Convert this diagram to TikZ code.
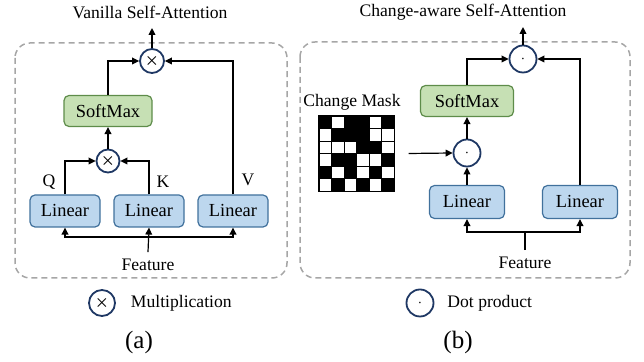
\documentclass[tikz,border=0pt]{standalone}
\usepackage{amsmath}
\usepackage{fontspec}
\setmainfont{Liberation Serif}
\usetikzlibrary{arrows.meta}
\definecolor{smfill}{HTML}{C6E0B4}
\definecolor{smline}{HTML}{5E8C4A}
\definecolor{lnfill}{HTML}{BDD7EE}
\definecolor{lnline}{HTML}{41719C}
\definecolor{opline}{HTML}{1F3864}
\begin{document}
\begin{tikzpicture}[x=0.5pt,y=-0.5pt]
	\tikzset{lin/.style={draw=lnline,fill=lnfill,rounded corners=2.5pt,line width=0.6pt,
	                     minimum width=35pt,minimum height=16pt,font=\fontsize{9.2}{10}\selectfont},
	         soft/.style={draw=smline,fill=smfill,rounded corners=2.5pt,line width=0.6pt,
	                      minimum height=15.5pt,font=\fontsize{9.2}{10}\selectfont},
	         opc/.style={circle,draw=opline,line width=0.9pt,minimum size=12pt,inner sep=0pt,
	                     font=\scriptsize},
	         lbl/.style={font=\fontsize{8.8}{10}\selectfont},
	         arr/.style={-{Triangle[length=3.5pt,width=3.4pt]},line width=0.6pt},
	         frame/.style={draw=gray!70,dashed,dash pattern=on 3pt off 2pt,line width=0.75pt,rounded corners=7.5pt}}
	\useasboundingbox (0,0) rectangle (644,362);
	% (a) vanilla
	\draw[frame] (15,43) rectangle (287,278);
	\node[lbl] (title1) at (150,12) {Vanilla Self-Attention};
	\node[opc] (mul2) at (152,61) {$\boldsymbol{\times}$};
	\node[soft,minimum width=44pt] (sm1) at (108,111) {SoftMax};
	\node[opc,minimum size=11.5pt] (mul1) at (108,161) {$\boldsymbol{\times}$};
	\node[lin] (lq) at (65,211) {Linear};
	\node[lin] (lk) at (149,211) {Linear};
	\node[lin] (lv) at (233,211) {Linear};
	\node[lbl] (q) at (49,182) {Q};
	\node[lbl] (k) at (163,182) {K};
	\node[lbl] (v) at (248,180) {V};
	\node[lbl] (feat1) at (148,265) {Feature};
	\coordinate (bus1) at (149,237);
	\coordinate (out1) at (152,28);
	\draw[arr] (lq.north) |- (mul1.west);
	\draw[arr] (lk.north) |- (mul1.east);
	\draw[arr] (mul1) -- (sm1);
	\draw[arr] (sm1.north) |- (mul2.west);
	\draw[arr] (lv.north) |- (mul2.east);
	\draw[arr] (mul2) -- (out1);
	\draw[arr] (feat1.north) -- (lk.south);
	\draw[arr] (bus1) -| (lq.south);
	\draw[arr] (bus1) -| (lv.south);
	\node[opc,minimum size=13pt] (leg1) at (102,303) {$\boldsymbol{\times}$};
	\node[lbl,right=4pt] (legt1) at (leg1.east) {Multiplication};
	\node[font=\fontsize{12.5}{14}\selectfont] (capa) at (139,342) {(a)};
	% (b) change-aware
	\draw[frame] (300,42) rectangle (630,278);
	\node[lbl] (title2) at (463,12) {Change-aware Self-Attention};
	\node[opc,minimum size=13.5pt] (dot2) at (523,59) {$\cdot$};
	\node[soft,minimum width=46.5pt] (sm2) at (467,101) {SoftMax};
	\node[opc,minimum size=13.5pt] (dot1) at (467,153) {$\cdot$};
	\node[lin,minimum width=37.5pt,minimum height=16.5pt] (rl1) at (467,202) {Linear};
	\node[lin,minimum width=37.5pt,minimum height=16.5pt] (rl2) at (580,202) {Linear};
	\node[lbl] (mlab) at (352,102) {Change Mask};
	\node[draw,fill=black,minimum size=37.5pt,inner sep=0pt,line width=0.6pt] (mask) at (356.5,153.5) {};
	\foreach \c/\r in {2/1,5/1,1/2,5/2,6/2,1/3,2/3,3/3,6/3,1/4,4/4,5/4,2/5,4/5,6/5,1/6,3/6,5/6}
		\draw[fill=white,line width=0.4pt] (306.5+12.5*\c,103.5+12.5*\r) rectangle ++(12.5,12.5);
	\draw[line width=0.6pt] (mask.north west) rectangle (mask.south east);
	\node[lbl] (feat2) at (525,263) {Feature};
	\coordinate (bus2) at (525,232);
	\coordinate (out2) at (523,27);
	\draw[arr] ([xshift=7pt]mask.east) -- (dot1.west);
	\draw[arr] (rl1.north) -- (dot1.south);
	\draw[arr] (dot1) -- (sm2);
	\draw[arr] (sm2.north) |- (dot2.west);
	\draw[arr] (rl2.north) |- (dot2.east);
	\draw[arr] (dot2) -- (out2);
	\draw[line width=0.6pt] (feat2.north) -- (bus2);
	\draw[arr] (bus2) -| (rl1.south);
	\draw[arr] (bus2) -| (rl2.south);
	\node[opc,minimum size=13.5pt] (leg2) at (420,303) {$\cdot$};
	\node[lbl,right=3pt] (legt2) at (leg2.east) {Dot product};
	\node[font=\fontsize{12.5}{14}\selectfont] (capb) at (458,342) {(b)};
\end{tikzpicture}
\end{document}
